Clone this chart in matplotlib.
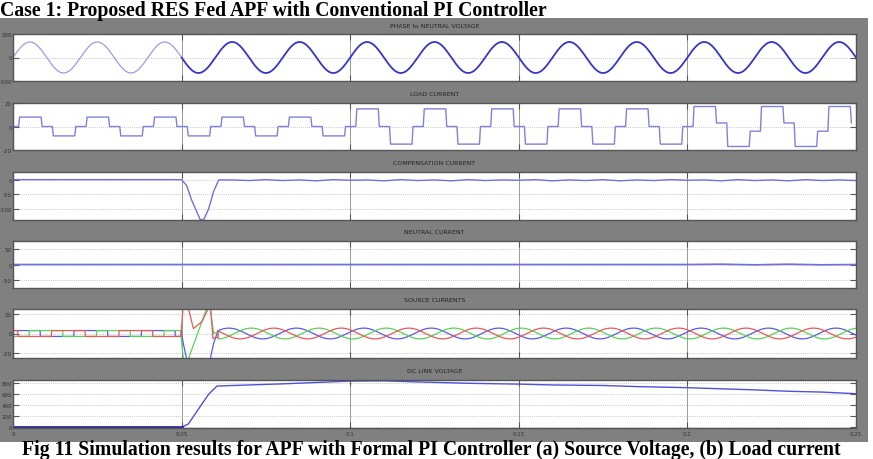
import numpy as np
import matplotlib
matplotlib.use("Agg")
import matplotlib.pyplot as plt
from matplotlib.patches import Rectangle

# ---------------- data ----------------
x_ticks = [0, 0.05, 0.1, 0.15, 0.2, 0.25]
x_tick_labels = ["0", "0.05", "0.1", "0.15", "0.2", "0.25"]

panel_titles = ["PHASE to NEUTRAL VOLTAGE", "LOAD CURRENT", "COMPENSATION CURRENT",
                "NEUTRAL CURRENT", "SOURCE CURRENTS", "DC LINK VOLTAGE"]

# phase to neutral voltage (50 Hz sine)
voltage_peak = 330.0
line_freq = 50.0
voltage_yticks = [-500, 0, 500]

# load current: per cycle levels (13 cycles of 20 ms)
load_pos = [8, 8, 8, 8, 8, 15, 15, 15, 15, 15, 17, 17, 17]
load_neg = [-8, -8, -8, -8, -8, -15, -15, -15, -15, -15, -17, -17, -17]
load_gap_after_pos = [0, 0, 0, 0, 0, 0, 0, 0, 0, 0, 3, 3, 3]
load_gap_after_neg = [0, 0, 0, 0, 0, 0, 0, 0, 0, 0, -4, -4, -4]
load_yticks = [-20, 0, 20]

# compensation current
comp_t = [0, 0.05, 0.0515, 0.053, 0.0555, 0.0565, 0.058, 0.0595, 0.061, 0.065, 0.07,
          0.075, 0.08, 0.085, 0.09, 0.095, 0.1, 0.105, 0.11, 0.115, 0.12, 0.125, 0.13,
          0.135, 0.14, 0.145, 0.15, 0.155, 0.16, 0.165, 0.17, 0.175, 0.18, 0.185, 0.19,
          0.195, 0.2, 0.205, 0.21, 0.215, 0.22, 0.225, 0.23, 0.235, 0.24, 0.245, 0.25]
comp_i = [0, 0, -20, -70, -135, -137, -100, -40, -1, -1, -3, 0, -3, -1, -4, 0, -2,
          -1, -4, 0, -3, -1, -4, 0, -3, -1, -2, 0, -4, -1, -3, 0, -4, -1, -3,
          0, -2, -1, -4, 0, -3, -1, -4, 0, -3, -1, -3]
comp_yticks = [-100, -50, 0]

# neutral current
neutral_t = [0, 0.2, 0.21, 0.22, 0.23, 0.24, 0.25]
neutral_i = [0, 0, 1, -1, 1, -1, 0]
neutral_yticks = [-50, 0, 50]

# source currents
source_pre_level = 3.0
source_amp = 5.5
source_phase_deg = [0, -120, 120]   # blue, green, red
source_colors = ["#5a5ae6", "#5ad25a", "#e65a5a"]
trans_t = {
    "blue": [0.0498, 0.0505, 0.0515, 0.0585, 0.0595, 0.0608],
    "green": [0.0498, 0.0505, 0.052, 0.0575, 0.0585, 0.0595, 0.0608],
    "red": [0.0498, 0.0504, 0.052, 0.0535, 0.056, 0.058, 0.0586, 0.0593, 0.0608],
}
trans_i = {
    "blue": [3, -10, -26, -26, -10, 3],
    "green": [0, -26, -26, 26, 26, 0, 2],
    "red": [-3, 26, 26, 5, 12, 26, 26, -5, -4],
}
source_yticks = [-20, 0, 20]

# dc link voltage
dc_t = [0, 0.05, 0.052, 0.055, 0.058, 0.0605, 0.07, 0.08, 0.09, 0.1, 0.11, 0.12,
        0.135, 0.15, 0.16, 0.175, 0.185, 0.2, 0.21, 0.22, 0.23, 0.24, 0.25]
dc_v = [0, 0, 60, 330, 600, 750, 770, 790, 815, 840, 845, 825,
        800, 785, 770, 760, 740, 720, 700, 680, 655, 640, 610]
dc_yticks = [0, 200, 400, 600, 800]

# ---------------- figure ----------------
W, H = 873, 460
fig = plt.figure(figsize=(W / 100, H / 100), dpi=100)
fig.patch.set_facecolor("white")
fig.add_artist(Rectangle((0, 1 - 443 / H), 868 / W, (443 - 19) / H,
                         transform=fig.transFigure, facecolor="#808080",
                         edgecolor="none", zorder=-5))

fig.text(0.5 / W, 1 - 1 / H, "Case 1: Proposed RES Fed APF with Conventional PI Controller",
         family="Liberation Serif", weight="bold", fontsize=14.2, ha="left", va="top")
fig.text(22 / W, 1 - 455.5 / H,
         "Fig 11 Simulation results for APF with Formal PI Controller (a) Source Voltage, (b) Load current",
         family="Liberation Serif", weight="bold", fontsize=14.2, ha="left", va="baseline")

axes_px = [(35, 82), (104, 151), (173, 221), (242, 289), (310, 359), (381, 428.5)]
ylims = [(-500, 500), (-20, 20), (-137, 26), (-75, 75), (-25, 25), (-5, 860)]
yticks_all = [voltage_yticks, load_yticks, comp_yticks, neutral_yticks, source_yticks, dc_yticks]
X0, X1 = 13, 856

axes = []
for i, (y0, y1) in enumerate(axes_px):
    ax = fig.add_axes([X0 / W, 1 - y1 / H, (X1 - X0) / W, (y1 - y0) / H])
    ax.set_facecolor("white")
    ax.set_xlim(0, 0.25)
    ax.set_ylim(*ylims[i])
    ax.set_yticks(yticks_all[i])
    ax.set_yticklabels([str(v) for v in yticks_all[i]])
    ax.set_xticks(x_ticks)
    if i == len(axes_px) - 1:
        ax.set_xticklabels(x_tick_labels)
    else:
        ax.set_xticklabels([])
    ax.tick_params(direction="in", length=4, width=0.8, color="#555555",
                   labelsize=4.0, labelcolor="#333333", pad=0.8,
                   top=True, right=True)
    ax.tick_params(axis="x", pad=2.5)
    for s in ax.spines.values():
        s.set_color("#555555")
        s.set_linewidth(1.0)
    for yt in yticks_all[i]:
        ax.axhline(yt, color="#b5b5b5", lw=0.6, ls=(0, (1, 1.5)), zorder=0.5)
    for xt in x_ticks[1:-1]:
        ax.axvline(xt, color="#9a9a9a", lw=0.7, zorder=0.5)
    fig.text((X0 + X1) / 2 / W, 1 - (y0 - 9) / H, panel_titles[i], fontsize=4.5,
             color="#222222", ha="center", va="center")
    axes.append(ax)

t = np.linspace(0, 0.25, 5001)

# 1) voltage
v = voltage_peak * np.sin(2 * np.pi * line_freq * t)
m = t <= 0.05
axes[0].plot(t[m], v[m], color="#9a9af0", lw=0.9)
axes[0].plot(t[~m], v[~m], color="#3535c8", lw=1.3)

# 2) load current (quasi-square wave built from per-cycle levels)
lt, li = [], []
ramp = 0.0003
T = 1 / line_freq
for k in range(len(load_pos)):
    t0 = k * T
    segs = [(t0 + T / 12, t0 + 5 * T / 12, load_pos[k]),
            (t0 + 5 * T / 12, t0 + 7 * T / 12, load_gap_after_pos[k]),
            (t0 + 7 * T / 12, t0 + 11 * T / 12, load_neg[k]),
            (t0 + 11 * T / 12, t0 + 13 * T / 12, load_gap_after_neg[k])]
    if k == 0:
        lt += [0, T / 12]
        li += [0, 0]
    for a, b, lev in segs:
        lt += [a + ramp, b]
        li += [lev, lev]
lt = np.array(lt)
li = np.array(li)
keep = lt <= 0.25
axes[1].plot(lt[keep], li[keep], color="#8080e0", lw=1.0)

# 3) compensation current
axes[2].plot(comp_t, comp_i, color="#7070e0", lw=1.0)

# 4) neutral current
axes[3].plot(neutral_t, neutral_i, color="#7070e0", lw=1.2)

# 5) source currents
names = ["blue", "green", "red"]
for name, ph, col in zip(names, source_phase_deg, source_colors):
    pre = t < 0.0498
    sq = source_pre_level * np.sign(np.sin(2 * np.pi * line_freq * t[pre] + np.deg2rad(ph) + 0.6))
    post = t >= 0.0608
    sn = source_amp * np.sin(2 * np.pi * line_freq * t[post] + np.deg2rad(ph) + 0.3)
    tt = np.concatenate([t[pre], trans_t[name], t[post]])
    yy = np.concatenate([sq, trans_i[name], sn])
    axes[4].plot(tt, yy, color=col, lw=0.9)

# 6) dc link
axes[5].plot(dc_t, dc_v, color="#5050d8", lw=1.0)
axes[5].plot([0, 0.05], [0, 0], color="#3030a0", lw=2.0)

fig.savefig("out.png", dpi=100)
